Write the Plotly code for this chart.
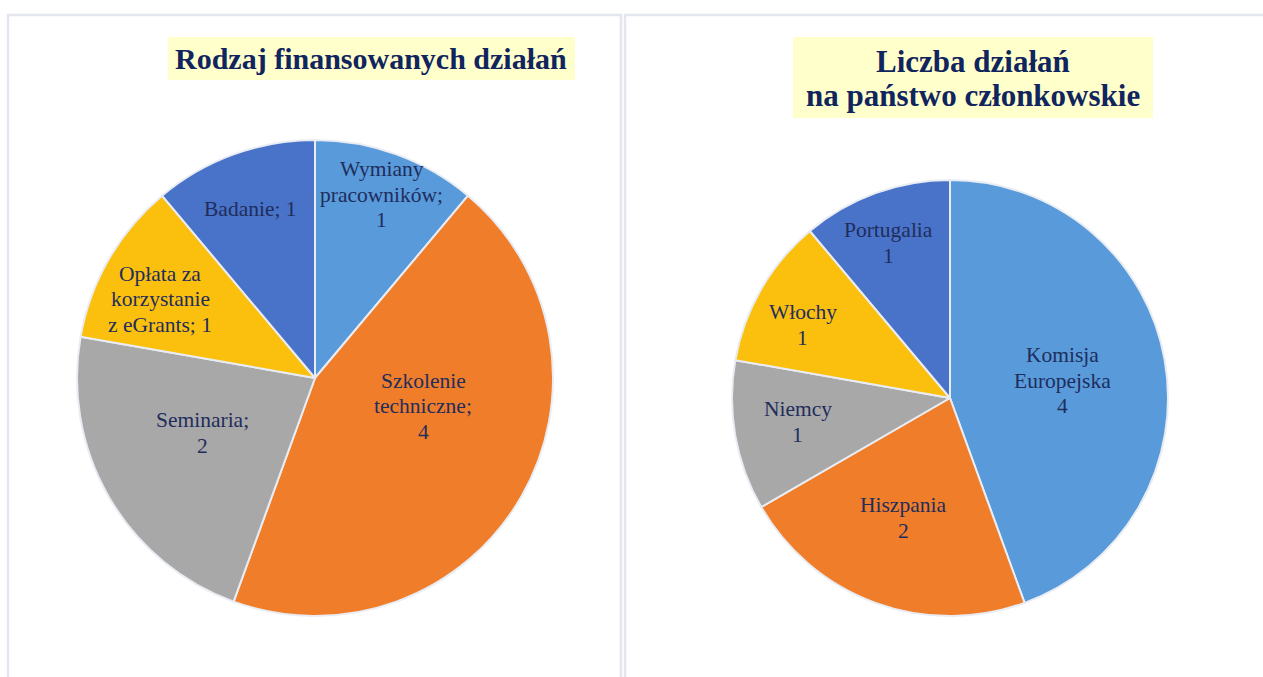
import math
import plotly.graph_objects as go

# ---- data ----
left_title = "Rodzaj finansowanych działań"
left_labels = ["Wymiany pracowników", "Szkolenie techniczne", "Seminaria",
               "Opłata za korzystanie z eGrants", "Badanie"]
left_text = ["Wymiany<br>pracowników;<br>1", "Szkolenie<br>techniczne;<br>4",
             "Seminaria;<br>2", "Opłata za<br>korzystanie<br>z eGrants; 1", "Badanie; 1"]
left_values = [1, 4, 2, 1, 1]

right_title_lines = ["Liczba działań", "na państwo członkowskie"]
right_labels = ["Komisja Europejska", "Hiszpania", "Niemcy", "Włochy", "Portugalia"]
right_text = ["Komisja<br>Europejska<br>4", "Hiszpania<br>2", "Niemcy<br>1", "Włochy<br>1", "Portugalia<br>1"]
right_values = [4, 2, 1, 1, 1]

# ---- style ----
left_colors = ["#589ada", "#f07d2a", "#a8a8a8", "#fbc00e", "#4873c8"]
right_colors = ["#589ada", "#f07d2a", "#a8a8a8", "#fbc00e", "#4873c8"]
# label placement: fraction of radius and angular shift (deg) from slice middle
left_label_rfrac = [0.82, 0.47, 0.525, 0.73, 0.76]
left_label_shift = [0, -15.5, 3.8, -3, -1]
right_label_rfrac = [0.524, 0.59, 0.706, 0.753, 0.765]
right_label_shift = [1.4, 1.4, 1, -3.6, -1.8]

W, H = 1263, 677
FONT = "Liberation Serif, Times New Roman, serif"
LBL = "#1f2d5c"
TTL = "#10245e"
YEL = "#ffffcc"
LINE_H = 25.5  # px between label lines

LEFT_PIE = (315, 378, 238)
RIGHT_PIE = (950, 398, 218)


def px_dom(cx, cy, r):
    return dict(x=[(cx - r) / W, (cx + r) / W],
                y=[(H - cy - r) / H, (H - cy + r) / H])


def px(x, y):
    return x / W, (H - y) / H


fig = go.Figure()
annotations = []

for labels, text, values, colors, pie, rfr, shift in [
    (left_labels, left_text, left_values, left_colors, LEFT_PIE, left_label_rfrac, left_label_shift),
    (right_labels, right_text, right_values, right_colors, RIGHT_PIE, right_label_rfrac, right_label_shift),
]:
    cx, cy, r = pie
    fig.add_trace(go.Pie(
        labels=labels, values=values, textinfo="none",
        sort=False, direction="clockwise", rotation=0,
        marker=dict(colors=colors, line=dict(color="#e9edf3", width=2)),
        domain=px_dom(cx, cy, r), showlegend=False, hoverinfo="label+value",
    ))
    total = sum(values)
    cum = 0
    for t, v, f, s in zip(text, values, rfr, shift):
        mid = (cum + v / 2) / total * 2 * math.pi + math.radians(s)
        cum += v
        tx = cx + f * r * math.sin(mid)
        ty = cy - f * r * math.cos(mid)
        lines = t.split("<br>")
        n = len(lines)
        for i, ln in enumerate(lines):
            ly = ty + (i - (n - 1) / 2) * LINE_H
            ax, ay = px(tx, ly)
            annotations.append(dict(text=ln, xref="paper", yref="paper", x=ax, y=ay,
                                    xanchor="center", yanchor="middle", showarrow=False,
                                    font=dict(family=FONT, size=21.5, color=LBL)))

shapes = [
    dict(type="rect", xref="paper", yref="paper",
         x0=8 / W, x1=621 / W, y0=-0.05, y1=(H - 15) / H,
         line=dict(color="#e3e6ec", width=2.5), fillcolor="rgba(0,0,0,0)"),
    dict(type="rect", xref="paper", yref="paper",
         x0=625 / W, x1=1.05, y0=-0.05, y1=(H - 15) / H,
         line=dict(color="#e3e6ec", width=2.5), fillcolor="rgba(0,0,0,0)"),
    dict(type="rect", xref="paper", yref="paper", layer="below",
         x0=168 / W, x1=575 / W, y0=(H - 80) / H, y1=(H - 37) / H,
         line=dict(width=0), fillcolor=YEL),
    dict(type="rect", xref="paper", yref="paper", layer="below",
         x0=793 / W, x1=1153 / W, y0=(H - 118) / H, y1=(H - 37) / H,
         line=dict(width=0), fillcolor=YEL),
]

lx, ly = px(371, 59)
annotations.append(dict(text="<b>" + left_title + "</b>", xref="paper", yref="paper",
                        x=lx, y=ly, xanchor="center", yanchor="middle", showarrow=False,
                        font=dict(family=FONT, size=30, color=TTL)))
for line, yc in zip(right_title_lines, [62, 95]):
    ax, ay = px(973, yc)
    annotations.append(dict(text="<b>" + line + "</b>", xref="paper", yref="paper",
                            x=ax, y=ay, xanchor="center", yanchor="middle", showarrow=False,
                            font=dict(family=FONT, size=31, color=TTL)))

fig.update_layout(
    width=W, height=H, margin=dict(l=0, r=0, t=0, b=0),
    paper_bgcolor="white", plot_bgcolor="white",
    shapes=shapes, annotations=annotations,
)
fig.write_html("out.html")
